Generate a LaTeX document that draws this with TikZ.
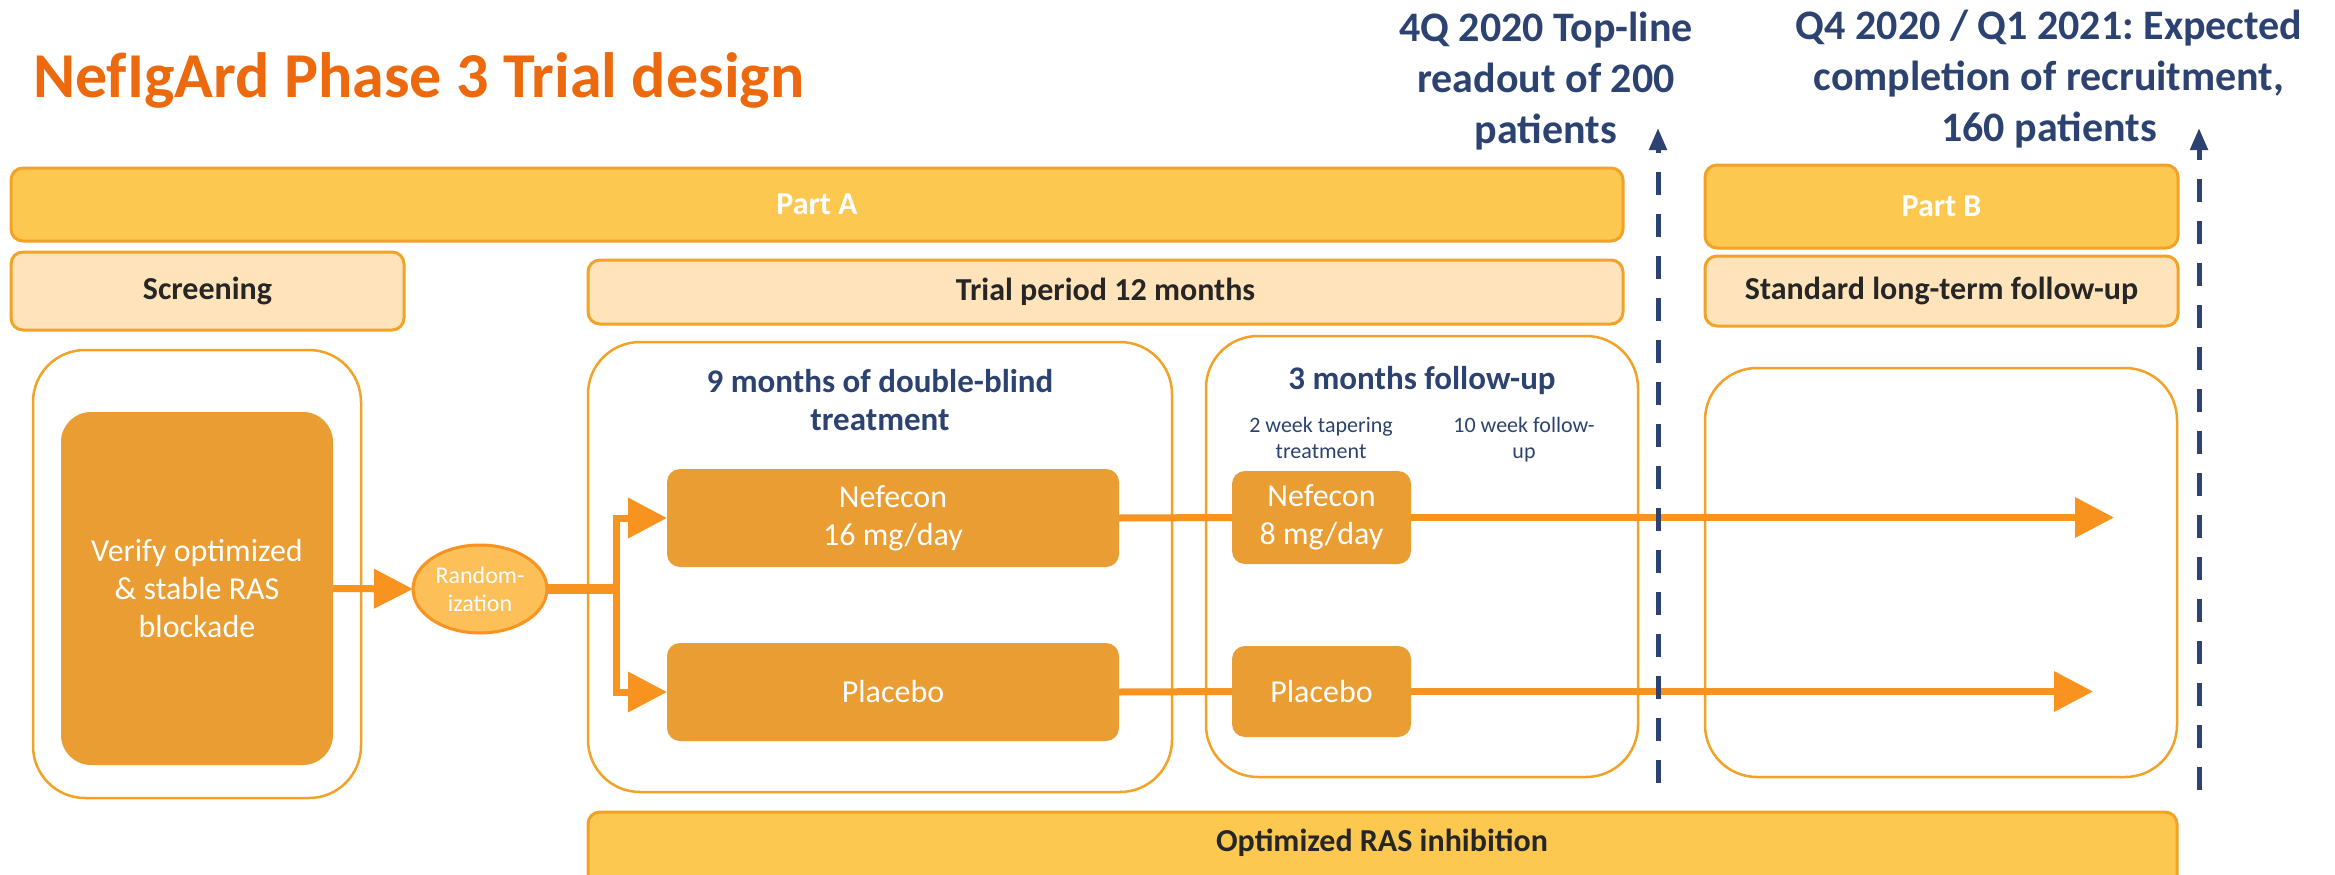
\documentclass[tikz,border=0pt]{standalone}
\usepackage{fontspec}
\setmainfont{Carlito}
\usetikzlibrary{arrows.meta,shapes.geometric}
\frenchspacing

\definecolor{gold}{HTML}{FCC850}
\definecolor{goldedge}{HTML}{F2A227}
\definecolor{peach}{HTML}{FFE3BA}
\definecolor{amber}{HTML}{E99D32}
\definecolor{flow}{HTML}{F7931E}
\definecolor{randfill}{HTML}{FDBF57}
\definecolor{navy}{HTML}{2C4270}
\definecolor{titleorange}{HTML}{EC6A0D}
\definecolor{ink}{HTML}{262626}

\newcommand\fsz[2]{\fontsize{#1}{#2}\selectfont}

\tikzset{
  every node/.style={inner sep=0pt, outer sep=0pt},
  phasebar/.style={draw=goldedge, line width=3pt, fill=gold, rounded corners=12pt,
    text=white, font=\fsz{32}{38}\bfseries},
  periodbar/.style={draw=goldedge, line width=3pt, fill=peach, rounded corners=12pt,
    text=ink, font=\fsz{32}{38}\bfseries},
  frame/.style={draw=goldedge, line width=2.5pt, fill=white, rounded corners=52pt},
  armbox/.style={fill=amber, rounded corners=13pt, text=white, align=center,
    font=\fsz{32}{38}},
  flowline/.style={draw=flow, line width=7pt},
  flowhead/.style={-{Triangle[length=39pt,width=39pt]}},
  milestone/.style={draw=navy, line width=5pt, dash pattern=on 23pt off 19pt,
    -{Triangle[length=22pt,width=17pt]}},
  mstext/.style={text=navy, align=center, font=\fsz{42}{51}\bfseries},
  headtext/.style={text=navy, align=center, font=\fsz{33}{38}\bfseries},
  smalltext/.style={text=navy, align=center, font=\fsz{22}{26}},
}

\begin{document}
\begin{tikzpicture}[x=1pt,y=-1pt]
\clip (0,0) rectangle (2335,875);
\fill[white] (0,0) rectangle (2335,875);

% title
\node[anchor=base west, text=titleorange, font=\fsz{64}{76}\bfseries] (title) at (33,98)
  {NefIgArd Phase 3 Trial design};

% phase bars
\node[phasebar, minimum width=1612pt, minimum height=73pt] (partA) at (817,204.5) {Part A};
\node[phasebar, minimum width=473pt, minimum height=83pt] (partB) at (1941.5,206.5) {Part B};

% period bars
\node[periodbar, minimum width=393pt, minimum height=78pt] (screen) at (207.5,291) {Screening};
\node[periodbar, minimum width=1035pt, minimum height=64pt] (trial) at (1105.5,292) {Trial period 12 months};
\node[periodbar, minimum width=473pt, minimum height=70pt] (standard) at (1941.5,291) {Standard long-term follow-up};

% outline frames
\node[frame, minimum width=328pt, minimum height=448pt] (frameL) at (197,574) {};
\node[frame, minimum width=584pt, minimum height=450pt] (frame9) at (880,567) {};
\node[frame, minimum width=432pt, minimum height=441pt] (frame3) at (1422,556.5) {};
\node[frame, minimum width=472pt, minimum height=409pt] (frameB) at (1941,572.5) {};

% frame headings
\node[headtext] (head9) at (880,400) {9 months of double-blind\\treatment};
\node[headtext, anchor=base] (head3) at (1422,389) {3 months follow-up};
\node[smalltext] (taper) at (1321,438) {2 week tapering\\treatment};
\node[smalltext] (tenwk) at (1524,440) {10 week follow-\\up};

% bottom bar
\node[draw=goldedge, line width=3pt, fill=gold, rounded corners=12pt,
  minimum width=1589pt, minimum height=100pt, anchor=north] (ras) at (1382.5,812) {};
\node[text=ink, font=\fsz{32}{38}\bfseries] (raslabel) at (1382,843) {Optimized RAS inhibition};

% treatment boxes
\node[armbox, rounded corners=30pt, minimum width=272pt, minimum height=353pt]
  (verify) at (197,588.5) {Verify optimized\\\& stable RAS\\blockade};
\node[ellipse, draw=flow, line width=3pt, fill=randfill, minimum width=134pt, minimum height=88pt,
  text=white, align=center, font=\fsz{24}{28}] (random) at (480,589) {Random-\\ization};
\node[armbox, minimum width=452pt, minimum height=98pt] (nef16) at (893,518) {Nefecon\\16 mg/day};
\node[armbox, minimum width=452pt, minimum height=98pt] (plac1) at (893,692) {Placebo};
\node[armbox, minimum width=179pt, minimum height=93pt] (nef8) at (1321.5,517.5) {Nefecon\\8 mg/day};
\node[armbox, minimum width=179pt, minimum height=91pt] (plac2) at (1321.5,691.5) {Placebo};

% flow connectors
\coordinate (split) at (616,589);
\coordinate (end1) at (2114,517.5);
\coordinate (end2) at (2093,691.5);
\draw[flowline, -{Triangle[length=39pt,width=38pt]}] (verify.east) -- (random.west);
\draw[flowline, line width=10pt] (random.east) -- (split);
\draw[flowline, flowhead] (split) |- (nef16.west);
\draw[flowline, flowhead] (split) |- (plac1.west);
\draw[flowline] (nef16.east) -- (nef8.west);
\draw[flowline] (plac1.east) -- (plac2.west);
\draw[flowline, flowhead] (nef8.east) -- (end1);
\draw[flowline, flowhead] (plac2.east) -- (end2);

% milestones
\coordinate (m1top) at (1658,128);
\coordinate (m1bot) at (1658,783);
\coordinate (m2top) at (2199,128);
\coordinate (m2bot) at (2199,790);
\draw[milestone] (m1bot) -- (m1top);
\draw[milestone] (m2bot) -- (m2top);
\node[mstext] (m1text) at (1546,81) {4Q 2020 Top-line\\readout of 200\\patients};
\node[mstext] (m2text) at (2049,79) {Q4 2020 / Q1 2021: Expected\\completion of recruitment,\\160 patients};
\end{tikzpicture}
\end{document}
